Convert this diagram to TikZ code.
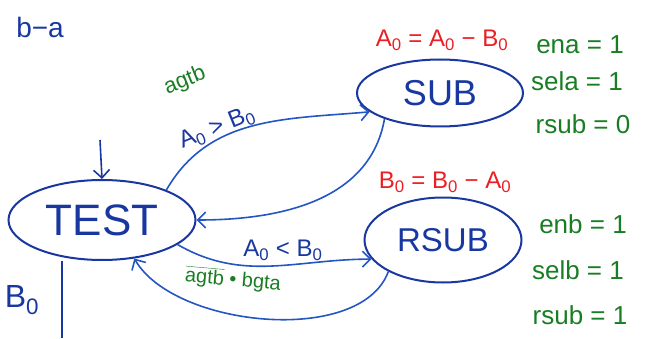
\documentclass[tikz,border=0pt]{standalone}
\usepackage{fontspec}
\setmainfont{Liberation Sans}
\usetikzlibrary{shapes.geometric,arrows.meta}
\definecolor{pen}{RGB}{25,55,160}
\definecolor{arrowblue}{RGB}{35,85,195}
\definecolor{redpen}{RGB}{235,30,35}
\definecolor{greenpen}{RGB}{25,125,35}
\tikzset{
  stateshape/.style={ellipse, draw=pen, line width=2pt, text=pen, inner sep=0pt},
  trans/.style={draw=arrowblue, line width=1.6pt, -{Straight Barb[length=8pt,width=16pt,line width=1.6pt]}},
  bluetext/.style={text=pen, inner sep=0pt, font=\fontsize{24}{24}\selectfont},
  redtext/.style={text=redpen, inner sep=0pt, font=\fontsize{24}{24}\selectfont},
  greentext/.style={text=greenpen, inner sep=0pt, font=\fontsize{26}{26}\selectfont},
}
\begin{document}
\begin{tikzpicture}[x=1pt,y=1pt]
\useasboundingbox (0,0) rectangle (651,338);
% states
\node[stateshape, minimum width=187pt, minimum height=80pt, font=\fontsize{44}{44}\selectfont] (test) at (102,118) {TEST};
\node[stateshape, minimum width=166pt, minimum height=67pt, font=\fontsize{36}{36}\selectfont] (sub) at (440,245) {SUB};
\node[stateshape, minimum width=157pt, minimum height=85pt, font=\fontsize{33}{33}\selectfont] (rsub) at (443,98) {RSUB};
% initial arrow
\coordinate (init) at (100,198);
\draw[trans, draw=pen] (init) -- (test.north);
% transitions
\draw[trans] (test.25) to[out=60, in=185] (sub.195);
\draw[trans] (sub.205) to[out=-100, in=0] (test.east);
\draw[trans] (test.-18) to[out=-30, in=180] (rsub.195);
\draw[trans] (rsub.210) to[out=-110, in=-60, looseness=0.8] (test.310);
% free line at bottom left
\coordinate (cut) at (62,0);
\draw[draw=pen, line width=1.6pt] (cut) -- (cut |- test.south);
% labels
\node[bluetext, font=\fontsize{28}{28}\selectfont] (ba) at (40,311) {b−a};
\node[greentext, font=\fontsize{22}{22}\selectfont, rotate=22] (agtb) at (185,257) {agtb};
\node[bluetext, rotate=22] (gt) at (217,210) {A\textsubscript{0} > B\textsubscript{0}};
\node[bluetext] (lt) at (283,88) {A\textsubscript{0} < B\textsubscript{0}};
\node[greentext, font=\fontsize{20}{20}\selectfont, rotate=-5] (ret) at (233,58) {$\overline{\mbox{agtb}}$ • bgta};
\node[redtext] (asg1) at (442,298) {A\textsubscript{0} = A\textsubscript{0} − B\textsubscript{0}};
\node[redtext] (asg2) at (445,156) {B\textsubscript{0} = B\textsubscript{0} − A\textsubscript{0}};
\node[greentext] (o1) at (580,293) {ena = 1};
\node[greentext] (o2) at (577,257) {sela = 1};
\node[greentext] (o3) at (583,214) {rsub = 0};
\node[greentext] (o4) at (583,114) {enb = 1};
\node[greentext] (o5) at (578,68) {selb = 1};
\node[greentext] (o6) at (580,23) {rsub = 1};
\node[bluetext, font=\fontsize{32}{32}\selectfont] (b0) at (22,38) {B\textsubscript{0}};
\end{tikzpicture}
\end{document}
